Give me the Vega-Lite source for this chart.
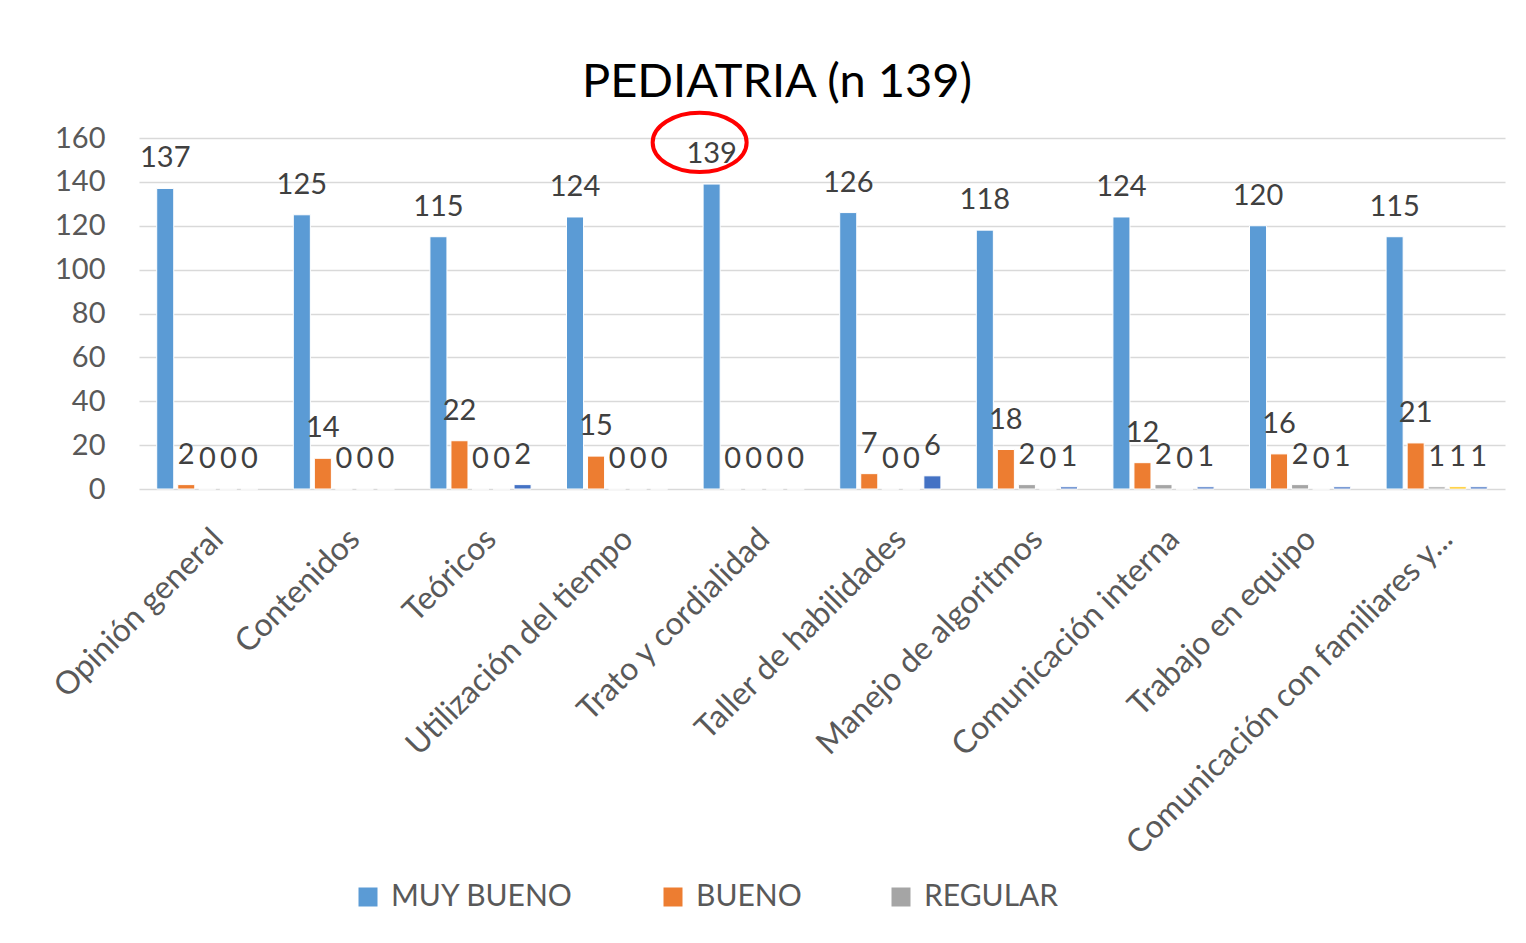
{
  "$schema": "https://vega.github.io/schema/vega-lite/v6.json",
  "width": 1366,
  "height": 351,
  "autosize": {"type": "none"},
  "padding": {"left": 139, "top": 138, "right": 21, "bottom": 454},
  "background": "white",
  "title": {"text": "PEDIATRIA (n 139)", "fontSize": 47, "font": "Lato", "fontWeight": "normal", "color": "#000000", "offset": -2, "dx": -45, "anchor": "middle"},
  "config": {"view": {"stroke": null}, "font": "Lato"},
  "datasets": {
    "valores": [
      {"cat": "Opinión general", "serie": "MUY BUENO", "v": 137},
      {"cat": "Opinión general", "serie": "BUENO", "v": 2},
      {"cat": "Opinión general", "serie": "REGULAR", "v": 0},
      {"cat": "Opinión general", "serie": "MALO", "v": 0},
      {"cat": "Opinión general", "serie": "MUY MALO", "v": 0},
      {"cat": "Contenidos", "serie": "MUY BUENO", "v": 125},
      {"cat": "Contenidos", "serie": "BUENO", "v": 14},
      {"cat": "Contenidos", "serie": "REGULAR", "v": 0},
      {"cat": "Contenidos", "serie": "MALO", "v": 0},
      {"cat": "Contenidos", "serie": "MUY MALO", "v": 0},
      {"cat": "Teóricos", "serie": "MUY BUENO", "v": 115},
      {"cat": "Teóricos", "serie": "BUENO", "v": 22},
      {"cat": "Teóricos", "serie": "REGULAR", "v": 0},
      {"cat": "Teóricos", "serie": "MALO", "v": 0},
      {"cat": "Teóricos", "serie": "MUY MALO", "v": 2},
      {"cat": "Utilización del tiempo", "serie": "MUY BUENO", "v": 124},
      {"cat": "Utilización del tiempo", "serie": "BUENO", "v": 15},
      {"cat": "Utilización del tiempo", "serie": "REGULAR", "v": 0},
      {"cat": "Utilización del tiempo", "serie": "MALO", "v": 0},
      {"cat": "Utilización del tiempo", "serie": "MUY MALO", "v": 0},
      {"cat": "Trato y cordialidad", "serie": "MUY BUENO", "v": 139},
      {"cat": "Trato y cordialidad", "serie": "BUENO", "v": 0},
      {"cat": "Trato y cordialidad", "serie": "REGULAR", "v": 0},
      {"cat": "Trato y cordialidad", "serie": "MALO", "v": 0},
      {"cat": "Trato y cordialidad", "serie": "MUY MALO", "v": 0},
      {"cat": "Taller de habilidades", "serie": "MUY BUENO", "v": 126},
      {"cat": "Taller de habilidades", "serie": "BUENO", "v": 7},
      {"cat": "Taller de habilidades", "serie": "REGULAR", "v": 0},
      {"cat": "Taller de habilidades", "serie": "MALO", "v": 0},
      {"cat": "Taller de habilidades", "serie": "MUY MALO", "v": 6},
      {"cat": "Manejo de algoritmos", "serie": "MUY BUENO", "v": 118},
      {"cat": "Manejo de algoritmos", "serie": "BUENO", "v": 18},
      {"cat": "Manejo de algoritmos", "serie": "REGULAR", "v": 2},
      {"cat": "Manejo de algoritmos", "serie": "MALO", "v": 0},
      {"cat": "Manejo de algoritmos", "serie": "MUY MALO", "v": 1},
      {"cat": "Comunicación interna", "serie": "MUY BUENO", "v": 124},
      {"cat": "Comunicación interna", "serie": "BUENO", "v": 12},
      {"cat": "Comunicación interna", "serie": "REGULAR", "v": 2},
      {"cat": "Comunicación interna", "serie": "MALO", "v": 0},
      {"cat": "Comunicación interna", "serie": "MUY MALO", "v": 1},
      {"cat": "Trabajo en equipo", "serie": "MUY BUENO", "v": 120},
      {"cat": "Trabajo en equipo", "serie": "BUENO", "v": 16},
      {"cat": "Trabajo en equipo", "serie": "REGULAR", "v": 2},
      {"cat": "Trabajo en equipo", "serie": "MALO", "v": 0},
      {"cat": "Trabajo en equipo", "serie": "MUY MALO", "v": 1},
      {"cat": "Comunicación con familiares y...", "serie": "MUY BUENO", "v": 115},
      {"cat": "Comunicación con familiares y...", "serie": "BUENO", "v": 21},
      {"cat": "Comunicación con familiares y...", "serie": "REGULAR", "v": 1},
      {"cat": "Comunicación con familiares y...", "serie": "MALO", "v": 1},
      {"cat": "Comunicación con familiares y...", "serie": "MUY MALO", "v": 1}
    ],
    "marca": [
      {"cat": "Trato y cordialidad", "serie": "MUY BUENO", "v": 158}
    ]
  },
  "encoding": {
    "x": {
      "field": "cat", "type": "nominal", "title": null, "sort": null,
      "scale": {
        "domain": ["Opinión general", "Contenidos", "Teóricos", "Utilización del tiempo", "Trato y cordialidad", "Taller de habilidades", "Manejo de algoritmos", "Comunicación interna", "Trabajo en equipo", "Comunicación con familiares y..."],
        "paddingInner": 0.23, "paddingOuter": 0.115
      },
      "axis": {"labelAngle": -45, "labelFontSize": 32, "labelColor": "#595959", "labelFont": "Lato", "labelPadding": 34, "labelLimit": 0, "ticks": false, "domain": false, "grid": false}
    },
    "xOffset": {
      "field": "serie", "type": "nominal", "sort": null,
      "scale": {"domain": ["MUY BUENO", "BUENO", "REGULAR", "MALO", "MUY MALO"], "paddingInner": 0.19, "paddingOuter": 0.095}
    },
    "y": {
      "field": "v", "type": "quantitative", "title": null,
      "scale": {"domain": [0, 160], "nice": false},
      "axis": {"values": [0, 20, 40, 60, 80, 100, 120, 140, 160], "labelFontSize": 29, "labelColor": "#595959", "labelFont": "Lato", "labelPadding": 34, "ticks": false, "domain": false, "gridColor": "#D9D9D9", "gridWidth": 1.5}
    }
  },
  "layer": [
    {
      "data": {"name": "valores"},
      "mark": {"type": "bar", "stroke": "white", "strokeWidth": 1},
      "encoding": {
        "color": {
          "field": "serie", "type": "nominal",
          "scale": {"domain": ["MUY BUENO", "BUENO", "REGULAR", "MALO", "MUY MALO"], "range": ["#5B9BD5", "#ED7D31", "#A5A5A5", "#FFC000", "#4472C4"]},
          "legend": {"orient": "none", "legendX": 214, "legendY": 744, "direction": "horizontal", "title": null, "values": ["MUY BUENO", "BUENO", "REGULAR"], "symbolType": "square", "symbolSize": 361, "symbolStrokeWidth": 0, "labelFontSize": 30, "labelColor": "#595959", "labelFont": "Lato", "labelLimit": 0, "columnPadding": 84, "labelOffset": 8, "padding": 0}
        }
      }
    },
    {
      "data": {"name": "valores"},
      "mark": {"type": "text", "baseline": "alphabetic", "dy": -21, "fontSize": 29, "color": "#404040", "font": "Lato"},
      "encoding": {"text": {"field": "v", "type": "quantitative"}}
    },
    {
      "data": {"name": "marca"},
      "mark": {"type": "point", "shape": "M -1.255 0 C -1.255 -0.348 -0.807 -0.63 -0.255 -0.63 C 0.297 -0.63 0.745 -0.348 0.745 0 C 0.745 0.348 0.297 0.63 -0.255 0.63 C -0.807 0.63 -1.255 0.348 -1.255 0 Z", "size": 8836, "filled": false, "stroke": "#FF0000", "strokeWidth": 4, "opacity": 1}
    }
  ]
}
